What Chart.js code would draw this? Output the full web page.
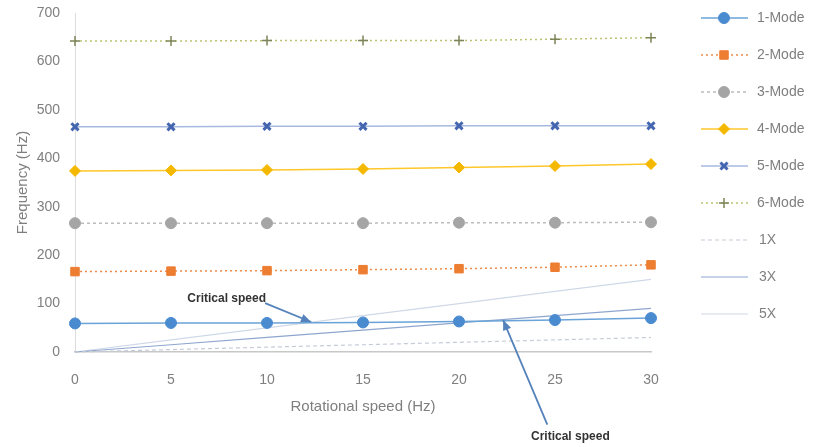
<!DOCTYPE html>
<html>
<head>
<meta charset="utf-8">
<script src="https://cdn.jsdelivr.net/npm/chart.js@4"></script>
<style>
  html, body { margin: 0; padding: 0; background: #fff; }
  #wrap { width: 813px; height: 447px; }
</style>
</head>
<body>
<div id="wrap"><canvas id="myChart"></canvas></div>
<script>
// data
const speeds = [0, 5, 10, 15, 20, 25, 30]
const mode1 = [59, 60, 60, 61, 63, 66, 70]
const mode2 = [166, 167, 168, 170, 172, 175, 180]
const mode3 = [266, 266, 266, 266, 267, 267, 268]
const mode4 = [374, 375, 376, 378, 381, 384, 388]
const mode5 = [465, 465, 466, 466, 467, 467, 467]
const mode6 = [642, 642, 643, 643, 643, 646, 649]
const line1x = [0, 5, 10, 15, 20, 25, 30]
const line3x = [0, 15, 30, 45, 60, 75, 90]
const line5x = [0, 25, 50, 75, 100, 125, 150]
const seriesNames = ['1-Mode', '2-Mode', '3-Mode', '4-Mode', '5-Mode', '6-Mode', '1X', '3X', '5X']
const yTicks = [0, 100, 200, 300, 400, 500, 600, 700]

// critical speed notes: [label x, label y, arrow from x, y, arrow to x, y]
const notes = [
  ['Critical speed', 7.9, 111, 9.9, 101, 12.3, 62],
  ['Critical speed', 25.8, -175, 24.6, -150, 22.3, 66]
]

const pts = vals => speeds.map((s, i) => ({ x: s, y: vals[i] }))
const font = size => ({ family: '"Liberation Sans", sans-serif', size })

const styles = [
  { c: '#6aa3d8', pc: '#4a8bd0', ps: 'circle', r: 5.5, dash: [] },
  { c: '#ee8a4a', pc: '#ed7d31', ps: 'rect', r: 6, dash: [2, 3] },
  { c: '#bcbcbc', pc: '#a5a5a5', ps: 'circle', r: 5.5, dash: [3, 3] },
  { c: '#ffc72a', pc: '#f5b800', ps: 'rectRot', r: 5.5, dash: [] },
  { c: '#a7b9df', pc: '#4466b0', ps: 'crossRot', r: 5, dash: [] },
  { c: '#bcc272', pc: '#7d8458', ps: 'cross', r: 5, dash: [2, 3] },
  { c: '#c5ccd8', pc: null, ps: false, r: 0, dash: [4, 3] },
  { c: '#8ea6cf', pc: null, ps: false, r: 0, dash: [] },
  { c: '#d0d9e8', pc: null, ps: false, r: 0, dash: [] }
]
const values = [mode1, mode2, mode3, mode4, mode5, mode6, line1x, line3x, line5x]

const datasets = values.map((v, i) => ({
  label: seriesNames[i],
  data: pts(v),
  borderColor: styles[i].c,
  backgroundColor: styles[i].pc || styles[i].c,
  borderWidth: i < 6 ? 1.5 : 1.2,
  borderDash: styles[i].dash,
  pointStyle: styles[i].ps,
  pointRadius: styles[i].r,
  pointBorderColor: styles[i].pc || styles[i].c,
  pointBorderWidth: styles[i].ps === 'crossRot' ? 3 : (styles[i].ps === 'cross' ? 1.5 : 1),
  tension: 0,
  clip: false
}))

// legend with line + marker, drawn on the right side
const sideLegend = {
  id: 'sideLegend',
  afterDraw(chart) {
    const ctx = chart.ctx
    ctx.save()
    datasets.forEach((ds, i) => {
      const y = 18 + i * 37
      ctx.strokeStyle = ds.borderColor
      ctx.lineWidth = ds.borderWidth
      ctx.setLineDash(ds.borderDash)
      ctx.beginPath()
      ctx.moveTo(701, y)
      ctx.lineTo(748, y)
      ctx.stroke()
      ctx.setLineDash([])
      if (ds.pointStyle) {
        ctx.fillStyle = ds.backgroundColor
        ctx.strokeStyle = ds.pointBorderColor
        ctx.lineWidth = ds.pointBorderWidth
        Chart.helpers.drawPoint(ctx, {
          pointStyle: ds.pointStyle,
          radius: ds.pointRadius,
          borderWidth: ds.pointBorderWidth
        }, 724, y)
      }
      ctx.fillStyle = '#7f7f7f'
      ctx.font = '14px "Liberation Sans", sans-serif'
      ctx.textBaseline = 'middle'
      ctx.fillText(ds.label, i < 6 ? 757 : 759, y)
    })
    ctx.restore()
  }
}

// arrows pointing at critical speeds
const arrowNotes = {
  id: 'arrowNotes',
  afterDraw(chart) {
    const { ctx, scales: { x, y } } = chart
    ctx.save()
    notes.forEach(n => {
      const x0 = x.getPixelForValue(n[3]), y0 = y.getPixelForValue(n[4])
      const x1 = x.getPixelForValue(n[5]), y1 = y.getPixelForValue(n[6])
      ctx.strokeStyle = '#5582bb'
      ctx.fillStyle = '#5582bb'
      ctx.lineWidth = 1.8
      ctx.beginPath()
      ctx.moveTo(x0, y0)
      ctx.lineTo(x1, y1)
      ctx.stroke()
      const a = Math.atan2(y1 - y0, x1 - x0)
      ctx.beginPath()
      ctx.moveTo(x1, y1)
      ctx.lineTo(x1 - 11 * Math.cos(a - 0.4), y1 - 11 * Math.sin(a - 0.4))
      ctx.lineTo(x1 - 11 * Math.cos(a + 0.4), y1 - 11 * Math.sin(a + 0.4))
      ctx.closePath()
      ctx.fill()
      ctx.fillStyle = '#333'
      ctx.font = 'bold 12px "Liberation Sans", sans-serif'
      ctx.textAlign = 'center'
      ctx.textBaseline = 'middle'
      ctx.fillText(n[0], x.getPixelForValue(n[1]), y.getPixelForValue(n[2]))
    })
    ctx.restore()
  }
}

new Chart(document.getElementById('myChart'), {
  type: 'line',
  data: { datasets },
  options: {
    responsive: true,
    maintainAspectRatio: false,
    animation: false,
    layout: { padding: { top: 13, right: 162, bottom: 27, left: 14 } },
    plugins: {
      legend: { display: false },
      tooltip: { enabled: false }
    },
    scales: {
      x: {
        type: 'linear',
        min: 0,
        max: 30,
        afterFit: s => { s.height = 68 },
        ticks: {
          stepSize: 5,
          padding: 20,
          color: '#7f7f7f',
          font: font(14)
        },
        grid: { display: false, drawTicks: false },
        border: { color: '#c8c8c8', width: 1.5 },
        title: {
          display: true,
          text: 'Rotational speed (Hz)',
          color: '#7f7f7f',
          font: font(15),
          padding: { top: 8 }
        }
      },
      y: {
        min: 0,
        max: 700,
        afterFit: s => {
          s.width = 61
          s.paddingTop = 0
          s.paddingBottom = 0
        },
        afterBuildTicks: s => { s.ticks = yTicks.map(v => ({ value: v })) },
        ticks: {
          padding: 15,
          color: '#7f7f7f',
          font: font(14)
        },
        grid: { display: false, drawTicks: false },
        border: { color: '#dcdcdc', width: 1 },
        title: {
          display: true,
          text: 'Frequency (Hz)',
          color: '#7f7f7f',
          font: font(15),
          padding: 0
        }
      }
    }
  },
  plugins: [sideLegend, arrowNotes]
})
</script>
</body>
</html>
